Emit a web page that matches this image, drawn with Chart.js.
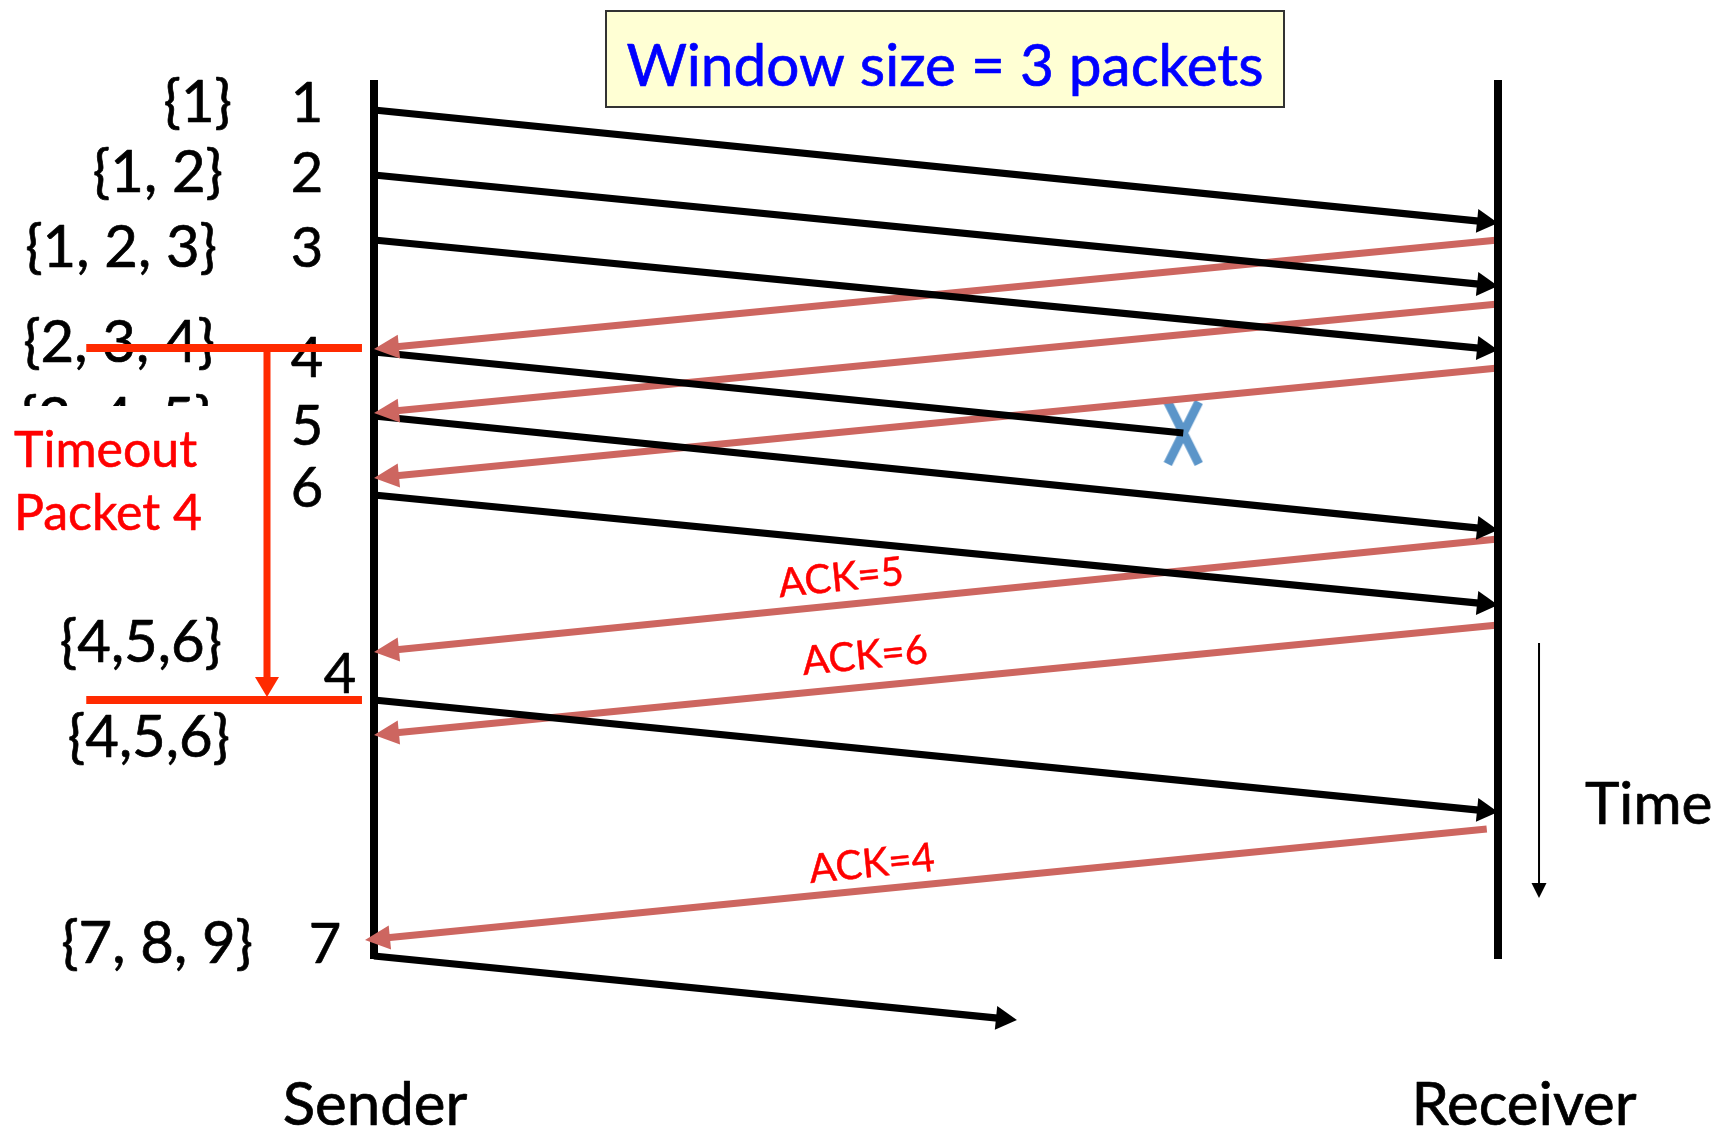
<!DOCTYPE html>
<html><head><meta charset="utf-8">
<script src="https://cdn.jsdelivr.net/npm/chart.js@4"></script>
<style>html,body{margin:0;padding:0;background:#fff;overflow:hidden}canvas{display:block}</style>
</head><body>
<canvas id="c" width="1719" height="1132"></canvas>
<script>
// ================= DATA =================
// x: 0 = sender, 1 = receiver ; y: time (grows downward)
const packetNames   = ['1','2','3','4','5','6','4','7'];
const packetSendT   = [110,175,240,352,416,495,700,956];
const packetArriveT = [223,286,350,433,530,605,812,1020];
const packetReachX  = [1,1,1,0.72,1,1,1,0.572];
const packetLost    = [false,false,false,true,false,false,false,false];

const ackNames   = ['','','','ACK=5','ACK=6','ACK=4'];
const ackSendT   = [240,304,368,539,625,829];
const ackArriveT = [349,413,478,652,735,940];
const ackFromX   = [1,1,1,1,1,0.99];
const ackToX     = [0,0,0,0,0,-0.008];

const windowNames = ['{1}','{1, 2}','{1, 2, 3}','{2, 3, 4}','{3, 4, 5}','{4,5,6}','{4,5,6}','{7, 8, 9}'];

const lifelineT  = [80, 959];
const timeoutT   = [348, 700];
const timeoutX   = [-0.256, -0.0107, -0.0952];   // line start, line end, arrow
const timeArrowT = [643, 898];
const timeArrowX = 1.0365;
const titleText  = 'Window size = 3 packets';
const timeoutText = ['Timeout','Packet 4'];

// ================= LAYOUT (pixels / styles) =================
const FONT = 'Lato, "Open Sans", "DejaVu Sans", sans-serif';
const L = {
  winRight:   [142,151,157,159,162,152,144,121],     // offset left of sender line
  winBase:    [122,192,267,362,439,662,757,963],
  numCenter:  [67,67,67,67,67,67,34,49],
  numBase:    [122,192,267,377,445,507,693,963],
  ackLabel:   [null,null,null,[841,578],[865,656],[872,864]],
};
const BLACK = '#000000', ACKRED = '#cd6660', TORED = '#ff2a00', XBLUE = '#5b95c9';

// X mark point style
const xMark = document.createElement('canvas');
xMark.width = 40; xMark.height = 70;
(() => { const g = xMark.getContext('2d'); g.strokeStyle = XBLUE; g.lineWidth = 9; g.lineCap='butt';
  g.beginPath(); g.moveTo(4.5,4); g.lineTo(35.5,66); g.moveTo(35.5,4); g.lineTo(4.5,66); g.stroke(); })();

function seg(pts, color, width, arrow, extra) {
  return Object.assign({ data: pts, showLine: true, borderColor: color, backgroundColor: color,
    borderWidth: width, pointRadius: 0, pointHoverRadius: 0, borderCapStyle: 'butt', fill: false,
    tension: 0, clip: false, arrow: arrow || null }, extra || {});
}

const datasets = [];
datasets.push(seg([{x:0,y:lifelineT[0]},{x:0,y:lifelineT[1]}], BLACK, 8));
datasets.push(seg([{x:1,y:lifelineT[0]},{x:1,y:lifelineT[1]}], BLACK, 8));
packetSendT.forEach((t,i) => {
  datasets.push(seg([{x:0,y:t},{x:packetReachX[i],y:packetArriveT[i]}], BLACK, 7.2,
    packetLost[i] ? null : {len:21, half:12}));
});
ackSendT.forEach((t,i) => {
  datasets.push(seg([{x:ackFromX[i],y:t},{x:ackToX[i],y:ackArriveT[i]}], ACKRED, 7, {len:25, half:12}));
});
// timeout markers
datasets.push(seg([{x:timeoutX[0],y:timeoutT[0]},{x:timeoutX[1],y:timeoutT[0]}], TORED, 8));
datasets.push(seg([{x:timeoutX[0],y:timeoutT[1]},{x:timeoutX[1],y:timeoutT[1]}], TORED, 8));
datasets.push(seg([{x:timeoutX[2],y:timeoutT[0]},{x:timeoutX[2],y:timeoutT[1]-3}], TORED, 7, {len:20, half:12}));
// time axis arrow
datasets.push(seg([{x:timeArrowX,y:timeArrowT[0]},{x:timeArrowX,y:timeArrowT[1]}], BLACK, 2, {len:15, half:7.5}));
// lost packet X
packetLost.forEach((lost,i) => { if (lost) datasets.push({ data:[{x:packetReachX[i], y:packetArriveT[i]}],
  showLine:false, clip:false, pointStyle: xMark, pointRadius: 20, pointHoverRadius: 20 }); });

const arrowPlugin = {
  id: 'arrows',
  afterDatasetsUpdate(chart) {
    chart.data.datasets.forEach((ds, i) => {
      if (!ds.arrow) return;
      const meta = chart.getDatasetMeta(i);
      const pts = meta.data, a = pts[pts.length-2], b = pts[pts.length-1];
      const dx = b.x - a.x, dy = b.y - a.y, len = Math.hypot(dx, dy);
      const ux = dx/len, uy = dy/len;
      meta.$tip = {x:b.x, y:b.y, ux, uy};
      b.x -= ux*ds.arrow.len*0.8; b.y -= uy*ds.arrow.len*0.8;
    });
  },
  afterDatasetsDraw(chart) {
    const ctx = chart.ctx;
    chart.data.datasets.forEach((ds, i) => {
      if (!ds.arrow) return;
      const t = chart.getDatasetMeta(i).$tip; if (!t) return;
      const bx = t.x - t.ux*ds.arrow.len, by = t.y - t.uy*ds.arrow.len;
      const px = -t.uy*ds.arrow.half, py = t.ux*ds.arrow.half;
      ctx.save(); ctx.fillStyle = ds.borderColor; ctx.beginPath();
      ctx.moveTo(t.x, t.y); ctx.lineTo(bx+px, by+py); ctx.lineTo(bx-px, by-py); ctx.closePath(); ctx.fill();
      ctx.restore();
    });
  }
};

function text(ctx, s, x, y, size, color, align, rot) {
  ctx.save(); ctx.font = size + 'px ' + FONT; ctx.fillStyle = color; ctx.strokeStyle = color;
  ctx.lineWidth = size * 0.012; ctx.lineJoin = 'round'; ctx.textAlign = align || 'left';
  ctx.textBaseline = 'alphabetic';
  if (rot) { ctx.translate(x, y); ctx.rotate(rot); ctx.textBaseline = 'middle'; x = 0; y = 0; }
  ctx.fillText(s, x, y); ctx.strokeText(s, x, y);
  ctx.restore();
}

const textPlugin = {
  id: 'texts',
  beforeDatasetsDraw(chart) {
    const ctx = chart.ctx, xs = chart.scales.x, ys = chart.scales.y;
    const X0 = xs.getPixelForValue(0), X1 = xs.getPixelForValue(1);
    // title box
    ctx.save(); ctx.fillStyle = '#ffffd4'; ctx.fillRect(606, 11, 678, 96);
    ctx.strokeStyle = '#333'; ctx.lineWidth = 2; ctx.strokeRect(606, 11, 678, 96); ctx.restore();
    text(ctx, titleText, 945, 86, 58.5, '#0000ff', 'center');
    // window labels
    windowNames.forEach((s, i) => text(ctx, s, X0 - L.winRight[i], L.winBase[i], 58, '#000', 'right'));
    // cover box of the timeout caption
    ctx.save(); ctx.fillStyle = '#fff'; ctx.fillRect(0, 406, 215, 117); ctx.restore();
    text(ctx, timeoutText[0], 14, 467, 50, '#ff0000', 'left');
    text(ctx, timeoutText[1], 14, 530, 50, '#ff0000', 'left');
    // packet numbers
    packetNames.forEach((s, i) => text(ctx, s, X0 - L.numCenter[i], L.numBase[i], 56, '#000', 'center'));
    // ack labels
    ackNames.forEach((s, i) => {
      if (!s) return;
      const x1 = xs.getPixelForValue(ackFromX[i]), y1 = ys.getPixelForValue(ackSendT[i]);
      const x2 = xs.getPixelForValue(ackToX[i]), y2 = ys.getPixelForValue(ackArriveT[i]);
      const ang = Math.atan2(y1 - y2, x1 - x2);
      text(ctx, s, L.ackLabel[i][0], L.ackLabel[i][1], 40, '#ff0000', 'center', ang);
    });
    text(ctx, 'Time', 1585, 824, 58.5, '#000', 'left');
    text(ctx, 'Sender', X0 + 1, 1125, 60, '#000', 'center');
    text(ctx, 'Receiver', X1 + 26, 1125, 60, '#000', 'center');
  }
};

new Chart(document.getElementById('c'), {
  type: 'scatter',
  data: { datasets },
  options: {
    responsive: false, animation: false, devicePixelRatio: 1,
    layout: { padding: 0, autoPadding: false },
    plugins: { legend: { display: false }, tooltip: { enabled: false } },
    events: [],
    scales: {
      x: { type: 'linear', display: false, min: -374/1124, max: 1345/1124 },
      y: { type: 'linear', display: false, min: 0, max: 1132, reverse: true }
    }
  },
  plugins: [arrowPlugin, textPlugin]
});
</script>
</body></html>
